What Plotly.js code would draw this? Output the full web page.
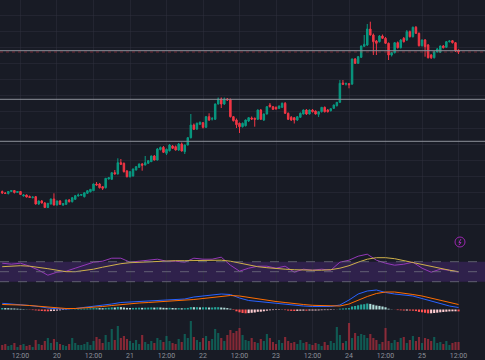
<!DOCTYPE html>
<html>
<head>
<meta charset="utf-8">
<script src="https://cdn.plot.ly/plotly-3.0.1.min.js"></script>
<style>
html,body{margin:0;padding:0;background:#181b25;}
#chart{width:485px;height:360px;}
</style>
</head>
<body>
<div id="chart"></div>
<script>
// ---- data (hourly candles, 19 06:00 .. 25 12:00) ----
const startTime = Date.UTC(2024, 2, 19, 6, 0, 0);

const open = [108.5,107,106.5,108.5,109.5,107.5,108.5,104,105,103.5,
  102.5,103.3,96,99,97,92.5,96,101,95,99,
  95,95.7,100,98.3,100.7,104,104.7,103.3,106.7,108.3,
  109.3,116,116,113.3,112.3,121,120.7,127.3,126,137.3,
  136.7,129,123.3,124,130,132.7,136,135,136.7,138.3,
  144,140,150.5,152.7,146.7,149.3,154,153.3,150,156,
  148.3,155,162.3,175,171,175.7,177.3,172.7,183.3,181,
  180.7,196,201,196,201,200.5,183.3,180,176.7,173.3,
  174.3,179,182,181.7,180.7,190,180,186,195,193.3,
  192.7,191.7,192.7,196.7,186.7,182.7,182.3,180,182.7,186,
  190,186,190,189,185.7,188.3,192.7,190,189.3,191.7,
  194.3,197.7,217,216,216.3,216,241,236.7,242.7,253.7,
  255,271,265,259,258.3,264,261.7,256.7,245,247.3,
  257.3,252.3,261.7,260,268.3,263.3,272.7,266.7,254.3,260,
  255,245,242.3,248,247.7,254,252.7,258.3,259.3,257.3,
  250];
const high = [109.5,108,109,110,110,109,109,106,105.5,104.5,
  103.5,104,99.5,100,98,97,101.5,106.7,99.5,100,
  97,100.5,101,103,105,106.5,106,107.5,110,111,
  116.5,118,117,114,122,123,127.7,130,141.7,141,
  137.5,130,129,131.5,134,136.5,137,144,140,144.5,
  145,152,153.5,154,151.5,156,155,154.5,157,157.5,
  155.5,163,186,176.5,177.5,178.5,178,184,186.7,183,
  196.5,202.5,202.5,202.5,202,201.5,184,181.5,177.5,177.5,
  180.5,183,183.5,182.5,190.5,191,186.5,194,197,194,
  193.5,194.5,197.5,198,187.5,184,183,184,187.5,190.5,
  191,190.5,191,189.5,188.7,193,193.5,191,191.5,195.5,
  198,220,220,217.5,217,241.5,242,244,254.5,265,
  276,278.3,266.5,260,265,265.5,263,257.5,248,258,
  258.5,261,263,270,269.5,273.5,274,267.5,260.5,261,
  256,246,249,252,254.5,255,259,259.7,260,258,
  250.5];
const low = [106,106,105.5,108,106.5,107,105,103.5,102.5,102,
  101.5,95.5,95,96.5,92,92,95.5,94.5,94.5,95,
  94,95,97.5,97.5,100,103.5,104,102.5,106,107.5,
  109,114.5,111.5,110,111.5,120.5,120,125.5,125.5,135,
  127.5,122.5,122.5,123.5,129.5,132,129.3,134.5,136,138,
  139.5,139.5,149.5,147,145,148.5,151,149.5,149,148.5,
  146,154.5,161.5,170,170,175,171.5,172,179,179.5,
  180,195.5,192,195,199,182.5,178.5,172,167,172.5,
  173.5,178,180,173.3,180,180,179,185.5,192.5,190,
  190.5,191,192,186,180,179,176.5,179,182,185.5,
  185,185.5,187.5,185.5,183,187.5,187.5,187.5,188.5,191,
  193.5,197,215,214.5,211.7,215,236,236,242,253,
  254,264.5,245,245,257.5,261,256,240,243.5,246.5,
  251.5,251.5,257.5,259,262.5,262.5,266,253.5,253.5,243.3,
  241.5,241,241.5,247.5,247,251.5,252,257.5,256.5,248,
  246];
const close = [107,106.5,108.5,109.5,107.5,108.5,105.5,105,103,102.5,
  103,96,99,97,92.5,96.7,101,95,99,95.7,
  96.5,100,98.3,102.3,104.3,105,105.5,107.3,109.3,110.7,
  116,115,112.3,111.7,121.7,122.3,127.3,126,137.3,135.7,
  128.3,123.3,128.3,131,133.3,136,134.7,137.3,139.3,144,
  140,151,152.5,147.7,150.7,155,151.7,150,156,149,
  155,162.3,175,170.7,176.7,177.7,172.7,183.3,180,181.3,
  196,201,196,201,200,183.3,179.3,175.3,173.3,176.7,
  180,182.3,181,180.7,190,180.7,186,193.3,193.3,190.7,
  191,194,196.7,186.7,180.7,180,180,183.3,186.7,190,
  186,190,188.3,186,188.3,192.7,188.3,188.3,191.3,195,
  197.7,216.7,215.7,216.3,215.3,241,236.7,243.3,254,255.7,
  271,265,258.3,256.7,264,261.7,256.7,245,247.3,257.3,
  252.3,260,258.3,268.3,263.3,272.7,266.7,254.3,260,253.3,
  242.3,242.3,248.3,251,254,252.3,258.3,259,257.3,249,
  248];
const volume = [5,6,4,5,7,3,5,6,4,5,3,
  10,6,5,9,12,7,11,8,6,5,4,
  6,12,7,5,5,6,8,5,9,13,11,
  7,15,8,21,10,24,12,14,11,9,7,10,6,15,8,6,9,7,
  12,10,8,14,9,7,6,11,8,16,12,29,13,10,8,12,14,9,11,21,17,12,9,15,20,
  17,19,22,15,10,9,12,8,7,11,9,16,12,
  8,6,10,7,13,9,7,8,6,10,7,8,
  6,5,7,6,4,8,5,9,7,23,
  15,7,9,27,12,17,14,16,15,12,16,12,10,6,8,22,
  9,7,10,8,12,13,7,10,14,9,13,7,12,11,9,13,7,8,6,9,5,7,8,8];
const macdHist = [1.5,1.4,1.3,1.1,1.0,0.8,0.6,0.4,0.2,
  -0.3,-0.6,-0.9,-1.2,-1.5,-1.7,-1.8,-1.6,-1.4,-1.1,-0.8,-0.5,-0.3,
  -0.1,0.1,0.3,0.5,0.7,0.9,1.0,1.2,1.4,1.5,1.4,
  1.3,1.6,1.8,2.1,2.0,2.6,2.4,2.0,1.6,1.5,1.6,1.7,1.8,1.7,1.8,1.9,2.1,1.9,
  2.1,2.0,1.7,1.6,1.7,1.5,1.3,1.4,1.2,1.3,1.6,2.4,2.3,2.3,2.1,2.2,2.2,2.0,2.0,2.3,2.3,2.0,1.8,1.4,0.8,
  -0.5,-1.8,-2.8,-3.5,-3.8,-3.6,-3.3,-3.0,-2.3,-2.2,-1.8,-1.2,-0.8,
  -0.6,-0.5,-0.4,-0.2,-0.6,-1.1,-1.4,-1.5,-1.4,-1.2,-1.1,-1.2,
  -1.0,-1.0,-1.0,-0.9,-0.7,-0.6,-0.6,-0.5,-0.3,-0.1,
  0.8,1.0,1.2,1.4,3.0,3.5,4.2,5.0,5.3,6.0,5.6,4.8,4.0,3.6,3.0,2.2,
  0.8,0.2,-0.1,-0.6,-0.8,-1.0,-1.0,-1.1,-1.2,-1.6,-2.4,-2.8,-3.3,-3.8,-3.8,-3.5,-3.2,-2.8,-2.5,-2.2,-1.9,-1.8,-1.8,-1.9];

// indicator lines read every 3rd candle
const rsi = [67,65,67,61,53,43,49,51,57,63,69,71,77,77,69,71,73,75,71,71,69,77,75,75,79,63,51,57,61,61,57,61,49,55,53,55,53,69,73,81,85,73,67,63,65,69,57,49,55,53,49];
const rsiMa = [60,61,62,61,59,56,53,50,50,52,55,59,63,66,68,69,70,71,71,72,72,72,73,73,73,71,67,63,60,58,56,55,54,53,53,53,54,57,62,69,75,78,78,76,72,69,65,61,57,53,50];
const macdLine = [6.2,5.7,5,4,3,1.5,0.8,0.5,1,2,3.5,4.5,5.5,7,7.5,8,8.5,9,9.8,10,10.5,12.5,13.5,14.5,15.5,15,11.5,9,8,7,6,5.2,4,3.5,3,2.8,3,4.5,9.5,15.5,18.5,19.5,17,15.5,14.5,13.5,11,8.5,5.5,3.5,2];
const signalLine = [5,5,4.5,4,3.2,2.3,1.5,1,1,1.5,2,3,4,5,6,6.5,7,7.5,8,8.5,9,10,11,12,13,14,13.5,12,10.5,9,8,7,5.8,5,4.2,3.8,3.5,3.5,5.5,9.5,13,16,17.5,17.5,16.5,15,13.5,11.5,9,7,5];

const levels = [249.3, 200.7, 158.7];

const tickVals = ['2024-03-19 12:00','2024-03-20 00:00','2024-03-20 12:00','2024-03-21 00:00','2024-03-21 12:00','2024-03-22 00:00','2024-03-22 12:00','2024-03-23 00:00','2024-03-23 12:00','2024-03-24 00:00','2024-03-24 12:00','2024-03-25 00:00','2024-03-25 12:00'];
const tickText = ['12:00','20','12:00','21','12:00','22','12:00','23','12:00','24','12:00','25','12:00'];

// ---- build ----
function fmt(ms){ return new Date(ms).toISOString().slice(0,16).replace('T',' '); }
const times = open.map((_, i) => fmt(startTime + i*3600e3));
const times3 = rsi.map((_, k) => times[k*3]);

const UP = '#089981', DN = '#f23645';
const volColors = open.map((o, i) => close[i] >= o ? 'rgba(8,153,129,0.5)' : 'rgba(242,54,69,0.5)');
const histColors = macdHist.map((h, i) => {
  const p = i > 0 ? macdHist[i-1] : h;
  if (h >= 0) return h >= p ? '#26a69a' : '#b2dfdb';
  return h < p ? '#ff5252' : '#ffcdd2';
});

const traces = [
  {type:'candlestick', x:times, open:open, high:high, low:low, close:close,
   increasing:{line:{color:UP,width:1}, fillcolor:UP},
   decreasing:{line:{color:DN,width:1}, fillcolor:DN},
   whiskerwidth:0, hoverinfo:'skip', xaxis:'x', yaxis:'y'},
  {type:'scatter', mode:'lines', x:times3, y:rsi, line:{color:'#9438b8', width:1}, hoverinfo:'skip', xaxis:'x', yaxis:'y2'},
  {type:'scatter', mode:'lines', x:times3, y:rsiMa, line:{color:'#cfb14a', width:1}, hoverinfo:'skip', xaxis:'x', yaxis:'y2'},
  {type:'bar', x:times, y:macdHist, marker:{color:histColors, line:{width:0}}, hoverinfo:'skip', xaxis:'x', yaxis:'y3'},
  {type:'scatter', mode:'lines', x:times3, y:macdLine, line:{color:'#2962ff', width:1}, hoverinfo:'skip', xaxis:'x', yaxis:'y3'},
  {type:'scatter', mode:'lines', x:times3, y:signalLine, line:{color:'#ff6d00', width:1}, hoverinfo:'skip', xaxis:'x', yaxis:'y3'},
  {type:'bar', x:times, y:volume, marker:{color:volColors, line:{width:0}}, hoverinfo:'skip', xaxis:'x', yaxis:'y4'}
];

const H = 360;
const dom = (top, bot) => [1 - bot/H, 1 - top/H];
const gridC = 'rgba(48,52,64,0.45)';
const hidden = {showticklabels:false, zeroline:false, showline:false, ticks:'', fixedrange:true};

const shapes = [];
levels.forEach(v => shapes.push({type:'line', xref:'paper', x0:0, x1:1, yref:'y', y0:v, y1:v, line:{color:'#8e919a', width:1}}));
shapes.push({type:'line', xref:'paper', x0:0, x1:1, yref:'y', y0:close[close.length-1], y1:close[close.length-1], line:{color:'rgba(242,54,69,0.4)', width:1, dash:'dot'}});
shapes.push({type:'rect', xref:'paper', x0:0, x1:1, yref:'y2', y0:30, y1:70, fillcolor:'rgba(116,52,184,0.26)', line:{width:0}, layer:'below'});
[70,50,30].forEach(v => shapes.push({type:'line', xref:'paper', x0:0, x1:1, yref:'y2', y0:v, y1:v, line:{color:'rgba(120,123,134,0.7)', width:1, dash:'dash'}}));
shapes.push({type:'circle', xref:'paper', yref:'paper', x0:455/485, x1:465/485, y0:1-247/H, y1:1-237/H, line:{color:'#9c27b0', width:1}});
shapes.push({type:'path', xref:'paper', yref:'paper',
  path:'M '+(461/485)+','+(1-239/H)+' L '+(459/485)+','+(1-242.5/H)+' L '+(461/485)+','+(1-242.5/H)+' L '+(459/485)+','+(1-245/H),
  line:{color:'#9c27b0', width:1}});

const layout = {
  width:485, height:360,
  margin:{l:0, r:0, t:0, b:0, pad:0},
  paper_bgcolor:'#181b25', plot_bgcolor:'#181b25',
  showlegend:false, bargap:0.3,
  font:{family:'Roboto, sans-serif', color:'#8c909a', size:7},
  xaxis:{type:'date', range:['2024-03-19 05:16','2024-03-25 20:42'], anchor:'y4',
    rangeslider:{visible:false}, tickmode:'array', tickvals:tickVals, ticktext:tickText,
    showgrid:true, gridcolor:gridC, gridwidth:1, zeroline:false, showline:false, ticks:'',
    tickfont:{size:7, color:'#8c909a'}, fixedrange:true},
  yaxis:Object.assign({domain:dom(0,235), range:[65,300], showgrid:true, gridcolor:gridC, tick0:285, dtick:16.15}, hidden),
  yaxis2:Object.assign({domain:dom(235,285), range:[23.4,123.4], showgrid:false}, hidden),
  yaxis3:Object.assign({domain:dom(285,317), range:[-7.5,24.5], showgrid:false}, hidden),
  yaxis4:Object.assign({domain:dom(317,350), range:[0,33], showgrid:false}, hidden),
  shapes:shapes
};

Plotly.newPlot('chart', traces, layout, {staticPlot:true, displayModeBar:false});
</script>
</body>
</html>
